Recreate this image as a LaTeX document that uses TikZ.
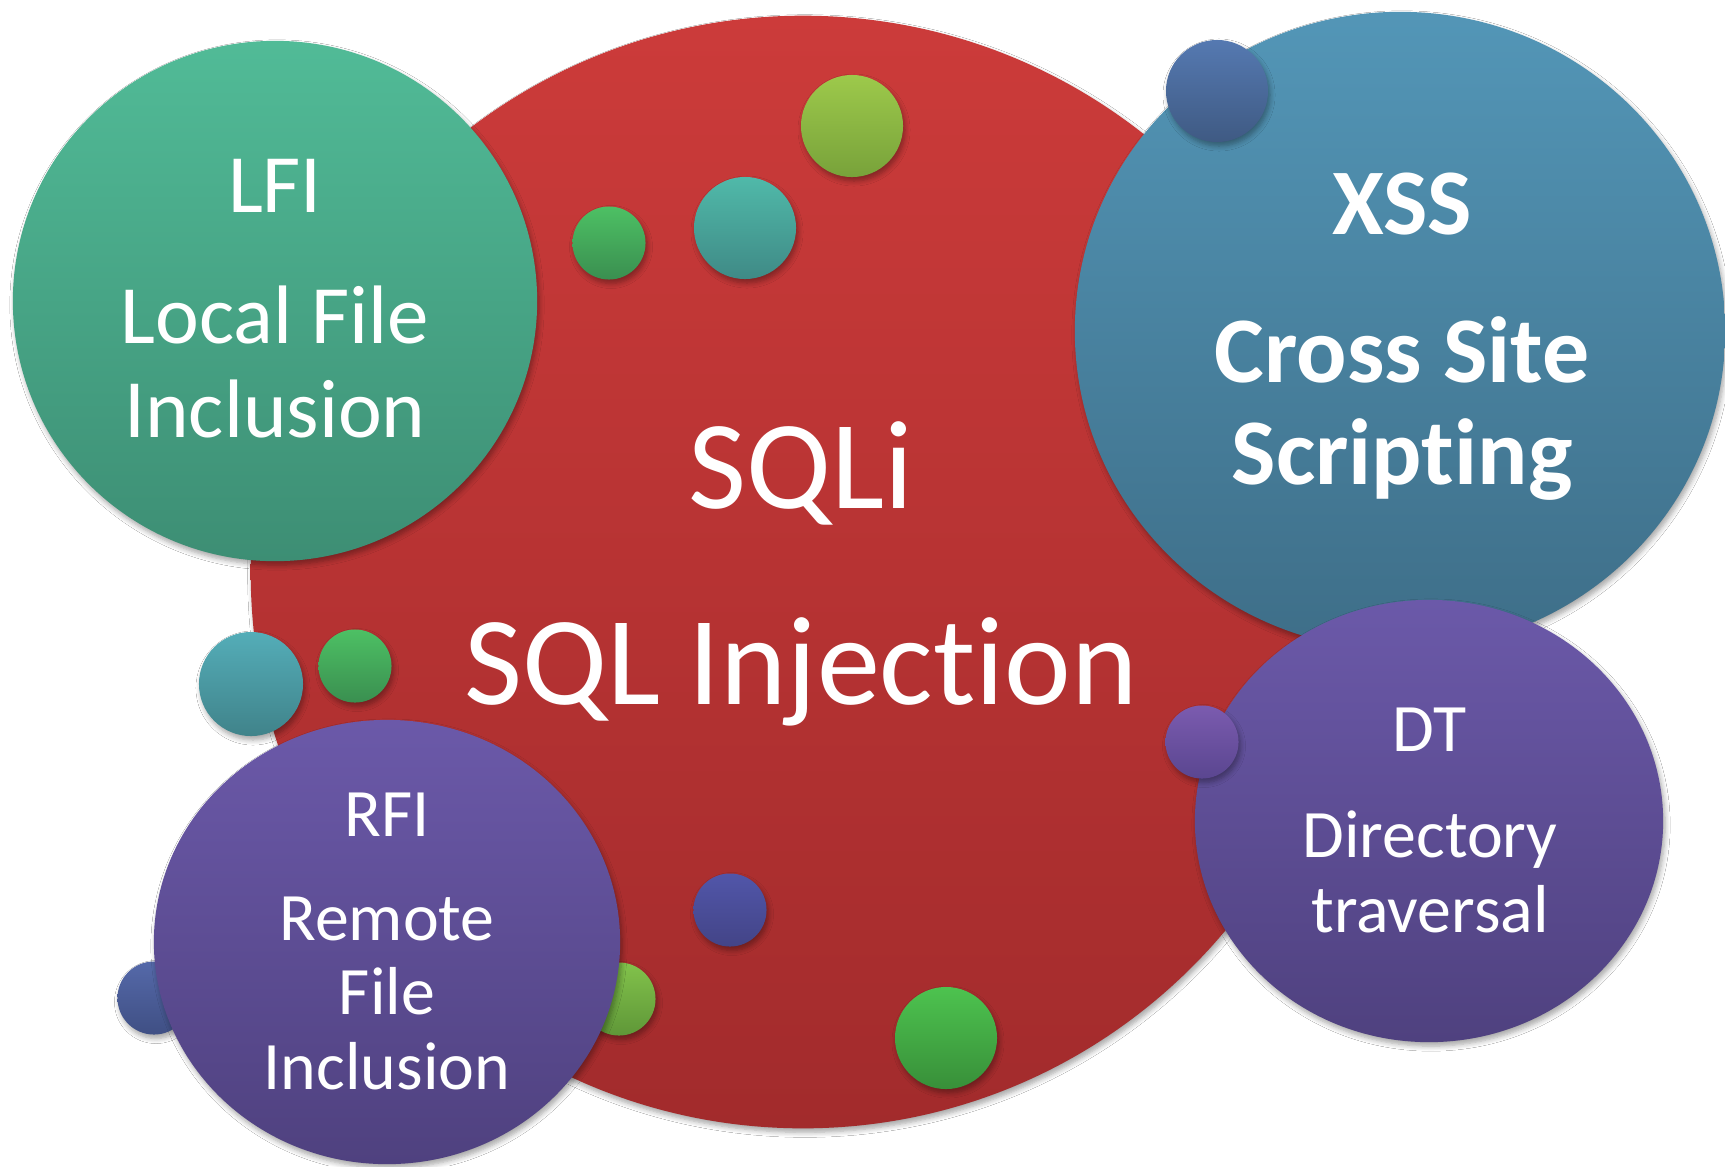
\documentclass[tikz,border=0pt]{standalone}
\usepackage{fontspec}
\setmainfont[Ligatures={NoCommon}]{Carlito}
\usetikzlibrary{shadows.blur}
\definecolor{redT}{HTML}{CC3B3A}
\definecolor{redB}{HTML}{A22B2C}
\definecolor{lfiT}{HTML}{51BB97}
\definecolor{lfiB}{HTML}{3D8E74}
\definecolor{xssT}{HTML}{5396B7}
\definecolor{xssB}{HTML}{3E6E88}
\definecolor{purT}{HTML}{6B59A9}
\definecolor{purB}{HTML}{4F417F}
\definecolor{oliT}{HTML}{9DC94B}
\definecolor{oliB}{HTML}{78A23A}
\definecolor{tealT}{HTML}{50B9A9}
\definecolor{tealB}{HTML}{3F8A86}
\definecolor{grnT}{HTML}{4DC064}
\definecolor{grnB}{HTML}{3A8F50}
\definecolor{bluT}{HTML}{5579B1}
\definecolor{bluB}{HTML}{3F5A83}
\definecolor{tlT}{HTML}{54ADB8}
\definecolor{tlB}{HTML}{40838A}
\definecolor{ppT}{HTML}{7B5BAF}
\definecolor{ppB}{HTML}{5A4690}
\definecolor{bpT}{HTML}{5156A9}
\definecolor{bpB}{HTML}{434487}
\definecolor{ol2T}{HTML}{82C24B}
\definecolor{ol2B}{HTML}{5F9738}
\definecolor{bbT}{HTML}{5569A9}
\definecolor{bbB}{HTML}{3F4F84}
\definecolor{gbT}{HTML}{4DC34F}
\definecolor{gbB}{HTML}{388F39}
\tikzset{
  bub/.style 2 args={top color=#1, bottom color=#2, draw=none,
    blur shadow={shadow xshift=0.02cm, shadow yshift=-0.04cm,
      shadow blur radius=0.05cm, shadow blur steps=6, shadow opacity=35}},
  lbl/.style={text=white, anchor=base, inner sep=0pt, align=center},
  fLFI/.style={font=\fontsize{23.6pt}{28pt}\selectfont},
  fSQL/.style={font=\fontsize{35.9pt}{42pt}\selectfont},
  fXSS/.style={font=\fontsize{26.7pt}{32pt}\selectfont\bfseries},
  fSM/.style={font=\fontsize{19.3pt}{23pt}\selectfont},
}
\begin{document}
\begin{tikzpicture}[x=0.01cm,y=-0.01cm]
\useasboundingbox (0,0) rectangle (1725,1166);
\fill[white] (0,0) rectangle (1725,1166);
% main SQLi ellipse
\path[bub={redT}{redB}] (803,572) ellipse [x radius=5.52cm, y radius=5.56cm];
% small bubbles on red (top)
\path[bub={oliT}{oliB}] (852,126) circle [radius=0.51cm];
\path[bub={tealT}{tealB}] (745,228) circle [radius=0.51cm];
\path[bub={grnT}{grnB}] (609,243) circle [radius=0.365cm];
% LFI
\path[bub={lfiT}{lfiB}] (275,301) ellipse [x radius=2.62cm, y radius=2.60cm];
% XSS
\path[bub={xssT}{xssB}] (1400,331) ellipse [x radius=3.25cm, y radius=3.19cm];
\path[bub={bluT}{bluB}] (1217,91) circle [radius=0.51cm];
% DT
\path[bub={purT}{purB}] (1429,821) ellipse [x radius=2.34cm, y radius=2.21cm];
\path[bub={ppT}{ppB}] (1202,742) circle [radius=0.365cm];
% bubbles behind RFI
\path[bub={ol2T}{ol2B}] (619,999) circle [radius=0.365cm];
\path[bub={bbT}{bbB}] (154,998) circle [radius=0.365cm];
% RFI
\path[bub={purT}{purB}] (387,942) ellipse [x radius=2.33cm, y radius=2.22cm];
% other small bubbles
\path[bub={tlT}{tlB}] (251,684) ellipse [x radius=0.52cm, y radius=0.52cm];
\path[bub={grnT}{grnB}] (355,666) circle [radius=0.365cm];
\path[bub={bpT}{bpB}] (730,910) circle [radius=0.365cm];
\path[bub={gbT}{gbB}] (946,1038) circle [radius=0.51cm];
% texts
\node[lbl,fLFI] (lfi) at (275,212) {LFI};
\node[lbl,fLFI] (lfi1) at (275,343) {Local File};
\node[lbl,fLFI] (lfi2) at (275,437) {Inclusion};
\node[lbl,fSQL] (sqli) at (801,508) {SQLi};
\node[lbl,fSQL] (sqli1) at (801,704) {SQL Injection};
\node[lbl,fXSS] (xss) at (1402,234) {XSS};
\node[lbl,fXSS] (xss1) at (1402,382) {Cross Site};
\node[lbl,fXSS] (xss2) at (1402,484) {Scripting};
\node[lbl,fSM] (dt) at (1430,751) {DT};
\node[lbl,fSM] (dt1) at (1430,857) {Directory};
\node[lbl,fSM] (dt2) at (1430,932) {traversal};
\node[lbl,fSM] (rfi) at (387,836) {RFI};
\node[lbl,fSM] (rfi1) at (387,940) {Remote};
\node[lbl,fSM] (rfi2) at (387,1014) {File};
\node[lbl,fSM] (rfi3) at (387,1089) {Inclusion};
\end{tikzpicture}
\end{document}
